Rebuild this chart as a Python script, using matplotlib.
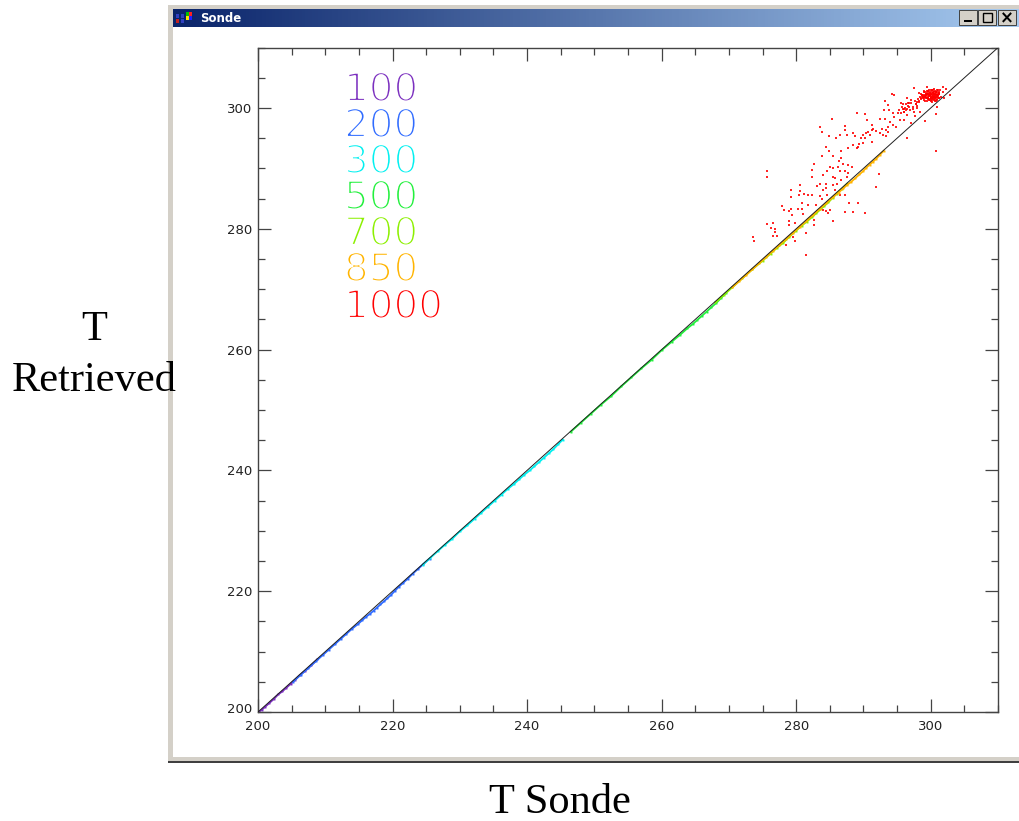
import matplotlib
matplotlib.use("Agg")
import matplotlib.pyplot as plt
import matplotlib.patheffects as pe
import numpy as np
from matplotlib.patches import Rectangle
from matplotlib.ticker import MultipleLocator
from matplotlib.transforms import ScaledTranslation

W, H = 1019, 821

level_names = ["100", "200", "300", "500", "700", "850", "1000"]
level_colors = ["#7B2FBF", "#2F6BFF", "#00F0F0", "#22F03C", "#8CF000", "#FFB400", "#FF0000"]

t100_x = [200.2,200.6,201.1,201.7,202.4,203.0,203.6,204.2,204.9,205.5,206.2,207.0,207.9,208.8]
t100_y = [200.1,200.4,200.9,201.5,202.2,202.9,203.4,204.0,204.7,205.3,206.1,206.8,207.7,208.7]

t200_x = [205.2,206.4,207.5,208.6,209.6,210.5,211.4,212.3,213.1,214.0,214.8,215.5,216.1,216.7,217.2,217.7,218.2,218.7,219.2,219.7,220.3,220.9,221.6,222.3,223.0,223.8,224.6,225.5]
t200_y = [205.0,206.2,207.3,208.4,209.4,210.3,211.2,212.1,212.9,213.8,214.5,215.2,215.8,216.3,216.8,217.3,217.8,218.3,218.8,219.3,220.0,220.7,221.4,222.1,222.9,223.7,224.5,225.4]

t300_x = [224.5,225.6,226.7,227.8,228.9,230.0,231.1,232.2,233.2,234.2,235.2,236.2,237.1,238.0,238.8,239.6,240.4,241.1,241.8,242.5,243.2,243.9,244.6,245.3]
t300_y = [224.4,225.5,226.6,227.7,228.7,229.9,230.9,232.0,233.0,234.0,235.0,236.0,236.9,237.7,238.5,239.3,240.0,240.7,241.4,242.1,242.8,243.5,244.3,245.1]

t500_x = [246.5,248.0,249.5,251.0,252.5,254.0,255.5,257.0,258.5,260.0,261.5,262.8,263.8,264.6,265.3,266.0,266.7,267.4,268.1,268.8,269.5]
t500_y = [246.4,247.9,249.4,250.9,252.3,253.9,255.4,256.9,258.3,259.9,261.3,262.5,263.5,264.2,264.9,265.6,266.3,267.0,267.7,268.5,269.3]

t700_x = [268.0,269.2,270.5,272.0,273.5,275.0,276.2,277.2,278.0,279.0,280.0,280.8,281.6,282.3,283.0,283.6,284.2,284.8,285.4,286.0,286.8,287.6]
t700_y = [267.8,269.0,270.3,271.8,273.3,274.7,275.9,276.9,277.6,278.7,279.7,280.5,281.2,281.9,282.6,283.2,283.8,284.4,285.1,285.8,286.6,287.5]

t850_x = [270.5,271.5,272.5,273.5,274.5,275.5,276.5,277.5,278.5,279.5,280.5,281.5,282.5,283.5,284.5,285.5,286.3,287.0,287.6,288.2,288.8,289.4,289.9,290.4,290.9,291.4,291.9,292.4,293.0]
t850_y = [270.3,271.3,272.3,273.3,274.3,275.3,276.3,277.3,278.3,279.3,280.3,281.3,282.3,283.3,284.3,285.3,286.0,286.7,287.3,287.8,288.4,289.0,289.5,290.1,290.6,291.1,291.6,292.2,292.9]

t1000_x = [275.6,275.6,273.6,273.8,275.6,276.5,276.3,276.9,276.6,277.2,276.9,277.9,278.2,278.9,279.2,279.2,279.2,280.6,280.5,280.4,281.1,281.8,282.3,280.8,281.8,280.9,280.3,
           279.4,279.0,279.8,278.9,281.0,282.6,282.6,283.5,283.8,282.9,284.0,284.5,285.1,284.8,285.5,281.4,279.5,279.8,278.5,281.4,282.3,282.4,282.6,283.8,283.5,283.8,284.9,285.9,285.3,
           286.5,287.3,287.3,287.6,288.5,288.7,289.1,290.2,290.5,291.3,291.2,290.7,284.4,284.9,285.4,286.7,287.7,288.4,289.2,286.6,286.4,286.9,286.2,285.5,287.7,288.3,284.6,284.0,285.0,
           285.4,285.7,286.5,287.2,287.7,287.5,286.7,286.0,285.5,283.5,283.1,284.4,284.5,284.0,285.7,284.6,286.5,287.2,287.8,289.2,287.3,288.5,290.2,291.8,292.3,
           289.7,290.3,290.0,291.2,291.0,290.4,289.9,289.4,289.1,291.4,291.9,292.7,293.4,293.7,292.4,292.9,293.4,293.7,293.2,293.7,293.8,293.0,292.4,293.2,293.9,294.4,294.9,294.6,295.1,294.4,294.3,294.6,
           295.9,296.1,296.2,296.3,296.4,296.0,295.6,296.6,297.4,296.9,297.9,298.4,297.6,297.1,296.1,296.4,295.4,296.5,299.1,300.8,300.9,300.8,301.8,302.8,297.5,299.4,
           298.6,298.8,299.0,299.1,299.2,299.3,299.4,299.5,299.6,299.7,299.8,299.9,300.0,300.0,300.1,300.1,300.2,300.2,300.3,300.3,300.4,300.4,300.5,300.5,300.6,300.6,300.7,300.8,300.9,301.0,301.1,301.2,301.3,301.4,301.5,
           298.9,299.2,299.4,299.6,299.8,300.0,300.2,300.4,300.6,300.8,301.0,301.2,299.3,299.7,300.1,300.5,300.9,301.3,299.5,299.9,300.3,300.7,301.1,298.4,298.2,301.8,302.0,302.3,298.0,297.8,
           298.5,298.7,298.9,299.1,299.3,299.5,299.7,299.9,300.1,300.3,300.5,300.7,300.9,301.1,298.6,298.8,299.0,299.2,299.4,299.6,299.8,300.0,300.2,300.4,300.6,300.8,301.0,301.2,299.0,299.3,299.6,299.9,300.2,300.5,300.8,301.1,
           299.1,299.4,299.7,300.0,300.3,300.6,300.9,301.2,298.7,299.0,299.3,299.6,299.9,300.2,300.5,300.8,
           295.3,295.8,296.3,296.8,297.3,297.8,298.3,295.6,296.1,296.6,297.1,297.6,298.1,295.9,296.7,297.5,298.2,297.0,297.9,296.4]
t1000_y = [289.5,288.5,278.7,277.9,280.8,281.0,280.1,280.0,278.8,278.8,279.4,283.8,283.1,283.0,283.3,286.5,285.3,287.2,286.3,285.6,285.8,285.6,285.6,284.3,283.9,283.3,283.2,
           282.3,281.3,281.0,280.6,282.4,281.5,280.6,285.5,284.9,284.0,283.1,283.0,283.1,282.6,281.3,279.3,278.7,277.9,277.3,275.7,288.5,289.7,290.7,292.1,296.9,296.1,295.3,295.0,298.1,
           295.5,297.1,296.4,295.6,295.8,295.3,299.1,299.0,298.0,297.2,296.4,296.1,293.6,292.8,292.1,292.9,293.3,293.9,293.6,291.8,291.3,290.7,290.3,290.0,290.6,290.3,289.5,288.9,290.2,
           288.6,288.4,289.5,289.5,289.2,288.6,288.0,287.5,287.2,287.5,287.1,287.4,286.7,286.4,286.4,285.6,285.6,285.6,284.2,284.2,282.7,282.8,282.6,287.0,289.0,
           295.0,295.0,294.2,294.4,295.5,295.8,295.6,294.0,293.3,296.6,296.2,296.6,296.4,296.8,295.8,295.5,295.3,296.1,301.2,300.5,299.7,299.7,298.2,298.2,297.7,297.2,296.9,298.5,299.1,299.2,302.4,302.2,
           299.9,299.4,300.0,299.6,299.8,299.3,300.8,300.8,300.2,299.7,300.0,299.4,298.6,297.5,298.0,298.8,298.0,295.1,297.8,299.0,300.2,292.8,303.5,302.2,303.3,303.4,
           301.6,302.2,301.3,302.6,301.8,302.3,301.1,302.8,301.6,302.0,301.4,302.5,301.2,302.9,301.7,302.3,301.0,303.0,301.5,302.6,301.9,302.2,301.3,303.1,301.6,302.4,301.8,302.7,301.4,302.1,302.9,301.6,302.4,303.0,301.8,
           302.0,301.9,302.4,301.5,302.7,301.7,302.1,302.5,301.2,302.3,301.9,302.7,302.1,302.9,301.5,302.2,301.8,302.5,302.4,302.0,301.7,302.8,302.2,301.9,302.5,302.6,301.7,303.1,301.0,300.6,
           301.5,302.0,301.7,302.2,301.9,302.5,302.1,301.4,302.7,301.8,302.3,301.6,302.9,302.0,302.4,301.8,302.6,301.2,302.1,302.8,301.5,302.4,301.9,303.0,301.3,302.2,302.6,301.7,302.8,301.6,302.4,302.1,301.4,301.9,302.7,302.3,
           302.0,301.6,302.3,301.8,302.5,302.0,301.5,302.4,302.1,301.7,302.4,301.9,302.2,301.6,302.6,301.1,
           299.6,300.2,300.7,300.1,299.9,300.6,301.0,299.2,299.8,300.4,300.9,301.2,301.5,300.6,300.9,299.4,301.1,301.4,300.3,301.7]

diag_x = [200, 310]
diag_y = [200, 310]

plt.rcParams["font.family"] = ["DejaVu Sans"]
fig = plt.figure(figsize=(W / 100, H / 100), dpi=100, facecolor="white")

# --- window chrome, in a full-figure pixel axes
bg = fig.add_axes([0, 0, 1, 1], zorder=0)
bg.set_xlim(0, W); bg.set_ylim(H, 0); bg.axis("off")
frame = "#D4D0C8"
bg.add_patch(Rectangle((168, 5), W - 168, 4, fc=frame, ec="none"))
bg.add_patch(Rectangle((168, 5), 5, 757, fc=frame, ec="none"))
bg.add_patch(Rectangle((168, 757), W - 168, 5, fc=frame, ec="none"))
bg.add_patch(Rectangle((168, 761), W - 168, 1.6, fc="#404040", ec="none"))
grad = np.linspace(0, 1, 256)[None, :, None]
c0 = np.array([10, 36, 106]) / 255; c1 = np.array([166, 202, 240]) / 255
bg.imshow(c0 + (c1 - c0) * grad, extent=(173, W, 27, 9), aspect="auto", zorder=1)
bg.set_xlim(0, W); bg.set_ylim(H, 0)
for x0 in (959, 978, 998):
    bg.add_patch(Rectangle((x0, 10.5), 18, 15, fc=frame, ec="#404040", lw=0.7, zorder=2))
bg.add_patch(Rectangle((964, 20), 8, 2, fc="black", zorder=3))
bg.add_patch(Rectangle((983, 13), 9, 9, fc="none", ec="black", lw=1, zorder=3))
bg.text(1007, 18, "×", color="black", fontsize=12, fontweight="bold", ha="center", va="center", zorder=3)
for (x0, y0, c) in [(176, 14, "#3040C0"), (181, 14, "#3040C0"), (176, 19, "#C02020"), (181, 19, "#3040C0"),
                    (186, 12, "#00C000"), (189, 12, "#FF2020"), (186, 16, "#FFE000"), (189, 16, "#2020FF")]:
    bg.add_patch(Rectangle((x0, y0), 3.4, 4, fc=c, ec="none", zorder=3))
bg.text(200, 18, "Sonde", color="white", fontsize=8.5, fontweight="bold", va="center", zorder=3)
bg.text(560, 803, "T Sonde", family="Liberation Serif", fontsize=30.5, ha="center", va="center")
bg.text(94, 330, "T", family="Liberation Serif", fontsize=30.5, ha="center", va="center")
bg.text(94, 381, "Retrieved", family="Liberation Serif", fontsize=30.5, ha="center", va="center")

# --- the plot
ax = fig.add_axes([258 / W, 1 - 712 / H, 740 / W, 664.4 / H], zorder=2)
ax.patch.set_alpha(0)
ax.set_xlim(200, 310); ax.set_ylim(200, 310)

ax.scatter(t1000_x, t1000_y, s=0.9, marker="s", color=level_colors[6], linewidths=0, alpha=0.85, zorder=2)
series = [(t100_x, t100_y, 0), (t200_x, t200_y, 1), (t300_x, t300_y, 2),
          (t500_x, t500_y, 3), (t700_x, t700_y, 4), (t850_x, t850_y, 5)]
for xs, ys, i in series:
    ax.plot(xs, ys, color=level_colors[i], lw=1.3, marker="s", ms=1.4, mew=0, zorder=2)
ax.plot(diag_x, diag_y, color="#202020", lw=0.7, zorder=3)

ax.xaxis.set_major_locator(MultipleLocator(20)); ax.xaxis.set_minor_locator(MultipleLocator(5))
ax.yaxis.set_major_locator(MultipleLocator(20)); ax.yaxis.set_minor_locator(MultipleLocator(5))
ax.tick_params(which="major", direction="in", length=9.5, width=0.9, top=True, right=True, color="#444444",
               labelsize=9.5, labelcolor="#222222", pad=4)
ax.tick_params(axis="x", which="major", pad=5.5)
ax.tick_params(which="minor", direction="in", length=5, width=0.9, top=True, right=True, color="#444444")
for s in ax.spines.values():
    s.set_color("#444444"); s.set_linewidth(1.0)
ax.set_xticks([200, 220, 240, 260, 280, 300]); ax.set_yticks([200, 220, 240, 260, 280, 300])
fig.canvas.draw()
first = ax.yaxis.get_majorticklabels()[0]
first.set_transform(first.get_transform() + ScaledTranslation(0, 4 / 100, fig.dpi_scale_trans))

# --- legend of pressure levels
legend_y = [90, 126, 162, 198, 234, 270, 307]
for name, c, py in zip(level_names, level_colors, legend_y):
    t = bg.text(344, py, name, color=c, fontsize=28, va="center", ha="left", zorder=3)
    t.set_path_effects([pe.Stroke(linewidth=1.6, foreground="white")])

fig.savefig("out.png", dpi=100)
